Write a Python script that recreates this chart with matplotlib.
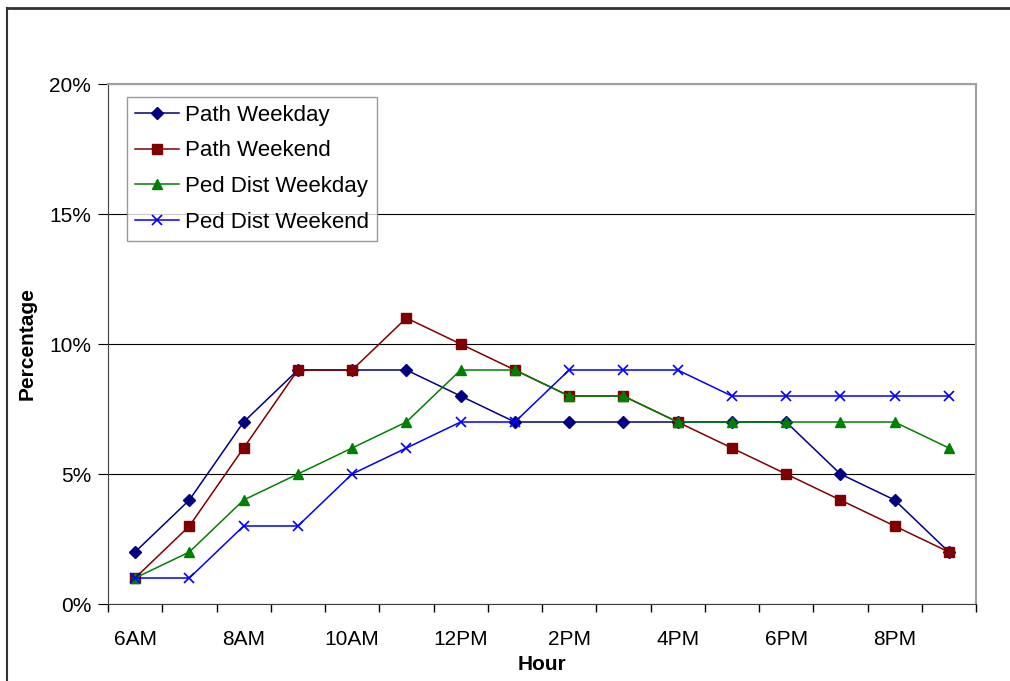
import matplotlib
matplotlib.use("Agg")
import matplotlib.pyplot as plt
from matplotlib.lines import Line2D

hours = ["6AM", "7AM", "8AM", "9AM", "10AM", "11AM", "12PM", "1PM",
         "2PM", "3PM", "4PM", "5PM", "6PM", "7PM", "8PM", "9PM"]
path_weekday = [2, 4, 7, 9, 9, 9, 8, 7, 7, 7, 7, 7, 7, 5, 4, 2]
path_weekend = [1, 3, 6, 9, 9, 11, 10, 9, 8, 8, 7, 6, 5, 4, 3, 2]
ped_weekday = [1, 2, 4, 5, 6, 7, 9, 9, 8, 8, 7, 7, 7, 7, 7, 6]
ped_weekend = [1, 1, 3, 3, 5, 6, 7, 7, 9, 9, 9, 8, 8, 8, 8, 8]
y_ticks = [0, 5, 10, 15, 20]

plt.rcParams['font.family'] = ['Liberation Sans', 'DejaVu Sans']

fig = plt.figure(figsize=(10.10, 6.81), dpi=100)
ax = fig.add_axes([108/1010, 77/681, 868/1010, 520/681])

x = list(range(len(hours)))
ax.plot(x, path_weekday, color="#000080", marker="D", markersize=6, lw=1.1, label="Path Weekday")
ax.plot(x, path_weekend, color="#800000", marker="s", markersize=6.5, lw=1.1, label="Path Weekend")
ax.plot(x, ped_weekday, color="#008000", marker="^", markersize=7.5, lw=1.1, label="Ped Dist Weekday")
ax.plot(x, ped_weekend, color="#0000FF", marker="x", markersize=7.5, mew=1.2, lw=1.1, label="Ped Dist Weekend")

ax.set_xlim(-0.5, len(hours) - 0.5)
ax.set_ylim(0, 20)
ax.set_yticks(y_ticks)
ax.set_yticklabels([f"{v}%" for v in y_ticks])
ax.set_xticks(x[::2])
ax.set_xticklabels(hours[::2])
ax.set_xticks([i - 0.5 for i in range(len(hours) + 1)], minor=True)
ax.tick_params(axis="x", which="major", length=0, labelsize=15, pad=19)
ax.tick_params(axis="x", which="minor", length=6, direction="out", width=1)
ax.tick_params(axis="y", length=7, direction="out", labelsize=15, pad=5)

ax.grid(axis="y", color="#000000", lw=0.8)
ax.set_axisbelow(True)
for s in ["top", "right"]:
    ax.spines[s].set_color("#a0a0a0")
    ax.spines[s].set_linewidth(1.5)
ax.spines["left"].set_color("#404040")
ax.spines["bottom"].set_color("#404040")

ax.set_xlabel("Hour", fontsize=15, fontweight="bold", labelpad=4)
ax.set_ylabel("Percentage", fontsize=15, fontweight="bold", labelpad=9)

leg = ax.legend(loc="upper left", bbox_to_anchor=(0.022, 0.975), fontsize=16,
                frameon=True, fancybox=False, handlelength=2.0, borderpad=0.35,
                labelspacing=0.66, handletextpad=0.25, borderaxespad=0)
leg.get_frame().set_edgecolor("#808080")
leg.get_frame().set_linewidth(1.0)

# outer chart frame
fig.add_artist(Line2D([7/1010, 7/1010], [0, 673/681], color="#333333", lw=1.5))
fig.add_artist(Line2D([7/1010, 1], [673/681, 673/681], color="#333333", lw=2))

fig.savefig("out.png", dpi=100)
